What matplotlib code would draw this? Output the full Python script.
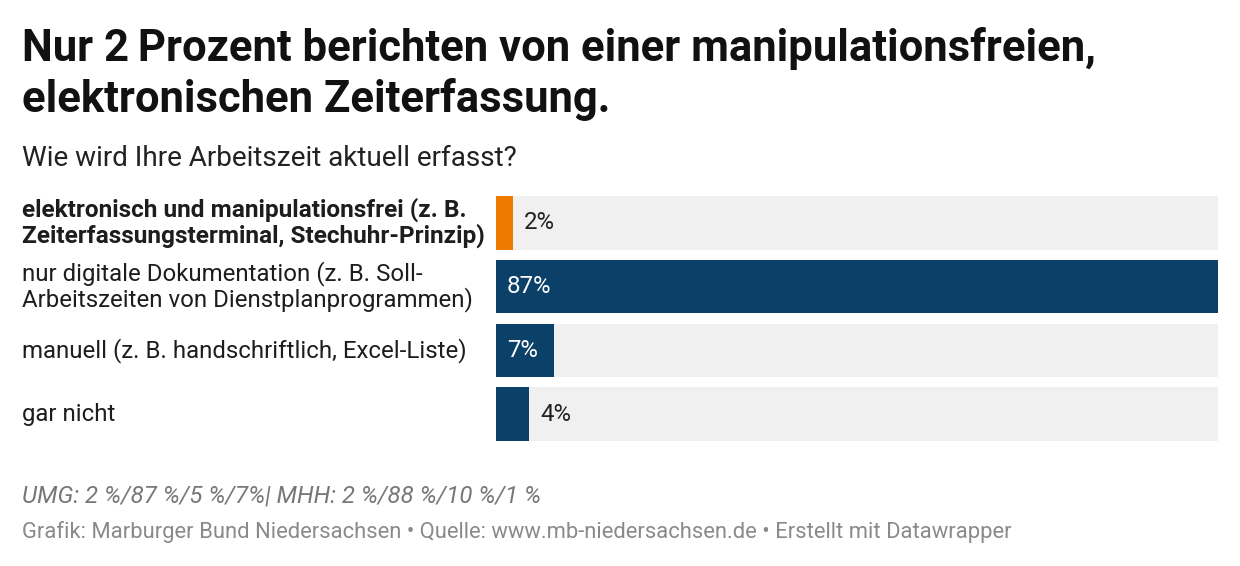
import matplotlib.pyplot as plt
from matplotlib.transforms import blended_transform_factory

plt.rcParams['font.family'] = ['Roboto', 'DejaVu Sans']

# Daten
kategorien = [
    "elektronisch und manipulationsfrei (z. B.\nZeiterfassungsterminal, Stechuhr-Prinzip)",
    "nur digitale Dokumentation (z. B. Soll-\nArbeitszeiten von Dienstplanprogrammen)",
    "manuell (z. B. handschriftlich, Excel-Liste)",
    "gar nicht",
]
werte = [2, 87, 7, 4]
farben = ["#ef7a00", "#0b4068", "#0b4068", "#0b4068"]
innen = [False, True, True, False]  # Beschriftung im Balken?

W, H = 1240, 566
fig = plt.figure(figsize=(W / 100, H / 100), dpi=100)
ax = fig.add_axes([496 / W, 1 - 441 / H, (1218 - 496) / W, (441 - 196) / H])

h = 0.84
y = range(len(werte))
ax.barh(y, [max(werte)] * len(werte), height=h, color="#f0f0f0")
ax.barh(y, werte, height=h, color=farben)
ax.set_xlim(0, max(werte))
ax.set_ylim(len(werte) - 1 + h / 2, -h / 2)
ax.axis("off")

px = max(werte) / 722  # ein Pixel in Datenkoordinaten
for i, v in enumerate(werte):
    if innen[i]:
        ax.text(11 * px, i, f"{v}%", color="white", fontsize=17.3, va="center", ha="left")
    else:
        ax.text(v + 11 * px, i, f"{v}%", color="#222222", fontsize=17.3, va="center", ha="left")

trans = blended_transform_factory(fig.transFigure, ax.transData)
for i, k in enumerate(kategorien):
    fett = i == 0
    ax.text(22 / W, i, k, transform=trans, fontsize=17.6 if fett else 17.3, va="center", ha="left",
            color="#1d1d1d", fontweight="bold" if fett else "normal", linespacing=1.05)

# Titel und Texte
fig.text(22 / W, 1 - 61 / H, "Nur 2\u2009Prozent berichten von einer manipulationsfreien,",
         fontsize=31.4, fontweight="bold", va="baseline", ha="left", color="#111111")
fig.text(22 / W, 1 - 112 / H, "elektronischen Zeiterfassung.",
         fontsize=31.4, fontweight="bold", va="baseline", ha="left", color="#111111")
fig.text(22 / W, 1 - 166 / H, "Wie wird Ihre Arbeitszeit aktuell erfasst?",
         fontsize=20.1, va="baseline", ha="left", color="#222222")
fig.text(22 / W, 1 - 496 / H, "UMG: 2 %/87 %/5 %/7%| MHH: 2 %/88 %/10 %/1 %",
         fontsize=17.3, style="italic", va="center", ha="left", color="#777777")
fig.text(22 / W, 1 - 532 / H,
         "Grafik: Marburger Bund Niedersachsen • Quelle: www.mb-niedersachsen.de • Erstellt mit Datawrapper",
         fontsize=15.8, va="center", ha="left", color="#8a8a8a")

fig.savefig("out.png", dpi=100, facecolor="white")
